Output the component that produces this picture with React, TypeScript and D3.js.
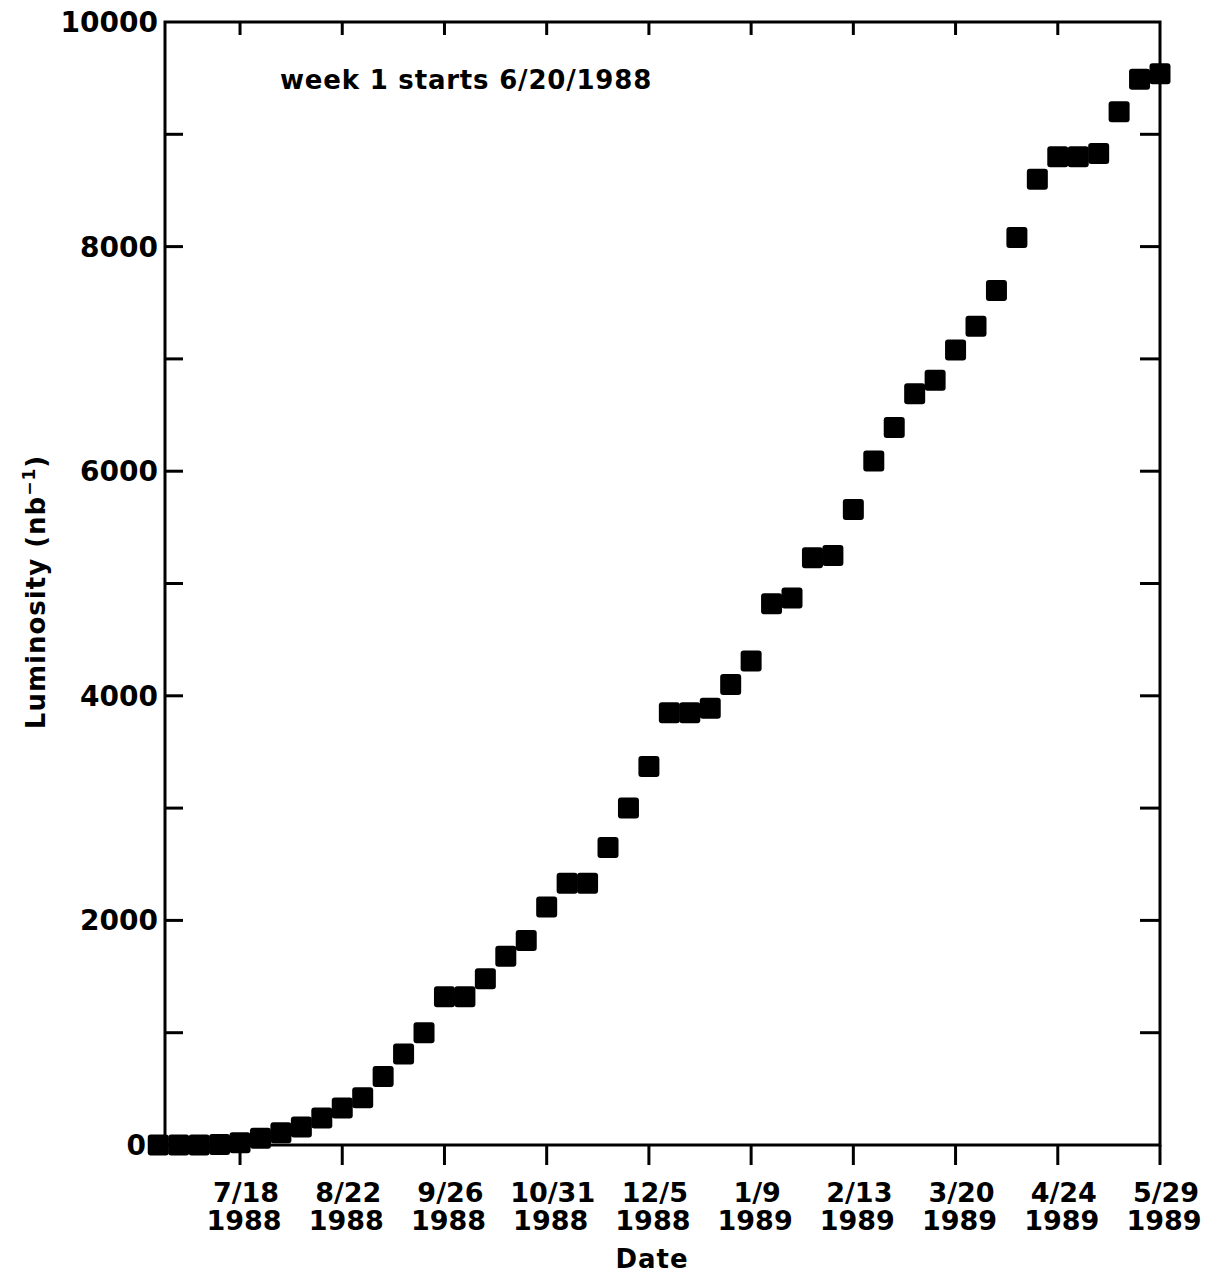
import { useRef, useEffect } from 'react';
import * as d3 from 'd3';

// integrated luminosity (nb^-1) at end of each week, week 1 starts 6/20/1988
const LUMINOSITY = [
  0, 0, 0, 5, 20, 60, 110, 160, 240, 330,
  420, 610, 810, 1000, 1320, 1320, 1480, 1680, 1820, 2120,
  2330, 2330, 2650, 3000, 3370, 3850, 3850, 3890, 4100, 4310,
  4820, 4870, 5230, 5250, 5660, 6090, 6390, 6690, 6810, 7080,
  7290, 7610, 8080, 8600, 8800, 8800, 8830, 9200, 9490, 9540,
];

const TICK_WEEKS = [5, 10, 15, 20, 25, 30, 35, 40, 45, 50];
const TICK_DATES = ['7/18', '8/22', '9/26', '10/31', '12/5', '1/9', '2/13', '3/20', '4/24', '5/29'];
const TICK_YEARS = ['1988', '1988', '1988', '1988', '1988', '1989', '1989', '1989', '1989', '1989'];

const Y_LABELS = [0, 2000, 4000, 6000, 8000, 10000];
const Y_MINOR = [1000, 3000, 5000, 7000, 9000];

const W = 1220;
const H = 1274;
const PLOT = { left: 165, right: 1160, top: 22, bottom: 1145 };
const FONT = 'DejaVu Sans, sans-serif';
const INK = '#000';

export default function App() {
  const svgRef = useRef<SVGSVGElement>(null);

  useEffect(() => {
    const svg = svgRef.current;
    if (!svg) return;
    const root = d3.select(svg);
    root.selectAll('*').remove();

    const x = d3.scaleLinear().domain([1.33, 50]).range([PLOT.left, PLOT.right]);
    const y = d3.scaleLinear().domain([0, 10000]).range([PLOT.bottom, PLOT.top]);

    const g = root.append('g');

    // frame
    g.append('rect')
      .attr('x', PLOT.left)
      .attr('y', PLOT.top)
      .attr('width', PLOT.right - PLOT.left)
      .attr('height', PLOT.bottom - PLOT.top)
      .attr('fill', 'none')
      .attr('stroke', INK)
      .attr('stroke-width', 3);

    // y ticks, inward on both sides
    const yTicks = [...Y_LABELS.slice(1, -1), ...Y_MINOR];
    g.selectAll('.ytl')
      .data(yTicks)
      .join('line')
      .attr('x1', PLOT.left)
      .attr('x2', PLOT.left + 18)
      .attr('y1', (d) => y(d))
      .attr('y2', (d) => y(d))
      .attr('stroke', INK)
      .attr('stroke-width', 3);
    g.selectAll('.ytr')
      .data(yTicks)
      .join('line')
      .attr('x1', PLOT.right)
      .attr('x2', PLOT.right - 20)
      .attr('y1', (d) => y(d))
      .attr('y2', (d) => y(d))
      .attr('stroke', INK)
      .attr('stroke-width', 3);

    // y labels
    g.selectAll('.yl')
      .data(Y_LABELS)
      .join('text')
      .attr('x', (d) => (d === 0 ? 146 : 158))
      .attr('y', (d) => y(d))
      .attr('dy', '0.36em')
      .attr('text-anchor', 'end')
      .attr('font-family', FONT)
      .attr('font-weight', 'bold')
      .attr('font-size', 28)
      .attr('fill', INK)
      .text((d) => String(d));

    // x ticks: outward at bottom, inward at top
    const xInner = TICK_WEEKS.slice(0, -1);
    g.selectAll('.xtb')
      .data(TICK_WEEKS)
      .join('line')
      .attr('x1', (d) => x(d))
      .attr('x2', (d) => x(d))
      .attr('y1', PLOT.bottom)
      .attr('y2', PLOT.bottom + 20)
      .attr('stroke', INK)
      .attr('stroke-width', 3);
    g.selectAll('.xtt')
      .data(xInner)
      .join('line')
      .attr('x1', (d) => x(d))
      .attr('x2', (d) => x(d))
      .attr('y1', PLOT.top)
      .attr('y2', PLOT.top + 13)
      .attr('stroke', INK)
      .attr('stroke-width', 3);

    // x labels (two lines)
    TICK_WEEKS.forEach((w, i) => {
      const t = g.append('text')
        .attr('text-anchor', 'middle')
        .attr('font-family', FONT)
        .attr('font-weight', 'bold')
        .attr('font-size', 27)
        .attr('fill', INK);
      t.append('tspan').attr('x', x(w) + 6).attr('y', 1202).text(TICK_DATES[i]);
      t.append('tspan').attr('x', x(w) + 4).attr('y', 1230).text(TICK_YEARS[i]);
    });

    // axis titles
    g.append('text')
      .attr('x', 652)
      .attr('y', 1268)
      .attr('text-anchor', 'middle')
      .attr('font-family', FONT)
      .attr('font-weight', 'bold')
      .attr('font-size', 26)
      .attr('letter-spacing', 1)
      .attr('fill', INK)
      .text('Date');

    const yt = g.append('text')
      .attr('transform', 'translate(45,592) rotate(-90)')
      .attr('text-anchor', 'middle')
      .attr('font-family', FONT)
      .attr('font-weight', 'bold')
      .attr('font-size', 26)
      .attr('letter-spacing', 1)
      .attr('fill', INK);
    yt.append('tspan').text('Luminosity (nb');
    yt.append('tspan').attr('dy', -10).attr('font-size', 17).text('−1');
    yt.append('tspan').attr('dy', 10).text(')');

    g.append('text')
      .attr('x', 280)
      .attr('y', 89)
      .attr('font-family', FONT)
      .attr('font-weight', 'bold')
      .attr('font-size', 26)
      .attr('letter-spacing', 0.8)
      .attr('fill', INK)
      .text('week 1 starts 6/20/1988');

    // data squares
    const S = 21;
    g.selectAll('.pt')
      .data(LUMINOSITY)
      .join('rect')
      .attr('x', (_, i) => x(i + 1) - S / 2)
      .attr('y', (d) => y(d) - S / 2)
      .attr('width', S)
      .attr('height', S)
      .attr('rx', 3)
      .attr('fill', INK);
  }, []);

  return (
    <div style={{ position: 'absolute', left: 0, top: 0, width: W, height: H, background: '#fff' }}>
      <svg ref={svgRef} width={W} height={H} style={{ display: 'block' }} />
    </div>
  );
}
